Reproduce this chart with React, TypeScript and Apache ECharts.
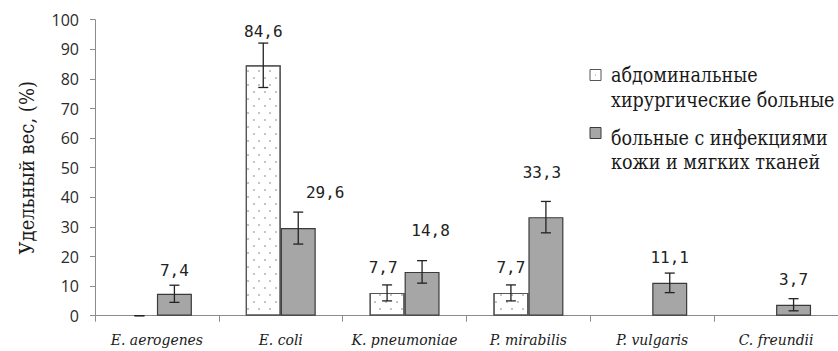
import React, { useEffect, useRef } from "react";
import * as echarts from "echarts";

const categories = ["E. aerogenes", "E. coli", "K. pneumoniae", "P. mirabilis", "P. vulgaris", "C. freundii"];
const seriesNames = ["абдоминальные хирургические больные", "больные с инфекциями кожи и мягких тканей"];
const abdominalValues = [0, 84.6, 7.7, 7.7, 0, 0];
const abdominalErrors = [0, 7.5, 2.7, 2.7, null, null];
const skinValues = [7.4, 29.6, 14.8, 33.3, 11.1, 3.7];
const skinErrors = [2.9, 5.4, 3.8, 5.3, 3.3, 2.05];
const yTicks = { min: 0, max: 100, interval: 10 };

// label placement (pixels above error bar top, horizontal nudge)
const abdominalLabelGap = [0, 11.5, 17.5, 17.5, 0, 0];
const abdominalLabelDx = [0, 0, -4, 0, 0, 0];
const skinLabelGap = [15, 20, 30, 29, 15.7, 18.7];
const skinLabelDx = [0, 27, 8.5, -4, 0, 0];

const CAT_GAP = 0.435;
const SERIF = "DejaVu Serif Condensed";

function errorSeries(values: number[], errors: (number | null)[], shift: number, gaps: number[], dxs: number[]) {
  return {
    type: "custom",
    coordinateSystem: "cartesian2d",
    encode: { x: 0, y: 1 },
    z: 10,
    data: values.map((v, i) => [i, v, errors[i] == null ? NaN : errors[i]]),
    renderItem: (params: any, api: any) => {
      const idx = api.value(0);
      const v = api.value(1);
      const e = api.value(2);
      const band = api.size([1, 0])[0];
      const bw = (band * (1 - CAT_GAP)) / 2;
      const base = api.coord([idx, v]);
      const cx = base[0] + shift * bw;
      const children: any[] = [];
      let topY = base[1];
      const stroke = { stroke: "#222", lineWidth: 1.3 };
      if (!isNaN(e)) {
        topY = api.coord([idx, v + e])[1];
        const botY = api.coord([idx, Math.max(v - e, 0)])[1];
        children.push({ type: "line", shape: { x1: cx, y1: topY, x2: cx, y2: botY }, style: stroke });
        children.push({ type: "line", shape: { x1: cx - 5, y1: topY, x2: cx + 5, y2: topY }, style: stroke });
        children.push({ type: "line", shape: { x1: cx - 5, y1: botY, x2: cx + 5, y2: botY }, style: stroke });
      }
      if (v > 0) {
        const i = params.dataIndex;
        children.push({
          type: "text",
          x: cx + dxs[i],
          y: topY - gaps[i],
          style: {
            text: v.toFixed(1).replace(".", ","),
            fontFamily: "DejaVu Sans Mono",
            fontSize: 16,
            fill: "#222",
            align: "center",
            verticalAlign: "middle",
          },
        });
      }
      return { type: "group", children };
    },
  };
}

function legendText(x: number, y: number, text: string) {
  return {
    type: "text",
    x,
    y,
    style: { text, fontFamily: SERIF, fontSize: 19.5, fill: "#1a1a1a", verticalAlign: "middle" },
  };
}

export default function App() {
  const ref = useRef<HTMLDivElement>(null);
  useEffect(() => {
    if (!ref.current) return;
    const chart = echarts.init(ref.current, undefined, { renderer: "svg" });
    chart.setOption({
      animation: false,
      grid: { left: 95, right: 0, top: 19.7, bottom: 35.3 },
      xAxis: {
        type: "category",
        data: categories,
        axisLine: { lineStyle: { color: "#8c8c8c", width: 1 } },
        axisTick: { show: true, length: 6, lineStyle: { color: "#8c8c8c" } },
        axisLabel: {
          fontFamily: SERIF,
          fontStyle: "italic",
          fontSize: 15.5,
          color: "#1a1a1a",
          margin: 16,
          interval: 0,
        },
      },
      yAxis: {
        type: "value",
        min: yTicks.min,
        max: yTicks.max,
        interval: yTicks.interval,
        name: "Удельный вес, (%)",
        nameLocation: "middle",
        nameGap: 58,
        nameTextStyle: { fontFamily: SERIF, fontSize: 20, color: "#1a1a1a" },
        axisLine: { show: true, lineStyle: { color: "#8c8c8c", width: 1 } },
        axisTick: { show: true, length: 5, lineStyle: { color: "#8c8c8c" } },
        splitLine: { show: false },
        axisLabel: { fontFamily: "Open Sans", fontSize: 16, color: "#2a2a2a", margin: 16 },
      },
      series: [
        {
          name: seriesNames[0],
          type: "bar",
          data: abdominalValues.map((v) => (v === 0 ? { value: v, itemStyle: { borderWidth: 0 } } : v)),
          barGap: "0%",
          barCategoryGap: CAT_GAP * 100 + "%",
          itemStyle: {
            color: "#ffffff",
            borderColor: "#555555",
            borderWidth: 1.2,
            decal: {
              symbol: "rect",
              symbolSize: 1,
              color: "#c4c4c4",
              dashArrayX: [[1.2, 8.8], [0, 5, 1.2, 3.8]],
              dashArrayY: [1.2, 4.8],
              rotation: 0,
            },
          },
        },
        {
          name: seriesNames[1],
          type: "bar",
          data: skinValues,
          barGap: "0%",
          barCategoryGap: CAT_GAP * 100 + "%",
          itemStyle: { color: "#a6a6a6", borderColor: "#3a3a3a", borderWidth: 1.2 },
        },
        errorSeries(abdominalValues, abdominalErrors, -0.5, abdominalLabelGap, abdominalLabelDx),
        errorSeries(skinValues, skinErrors, 0.5, skinLabelGap, skinLabelDx),
      ],
      graphic: [
        { type: "rect", shape: { x: 590, y: 69.5, width: 11, height: 11 }, style: { fill: "#fff", stroke: "#555", lineWidth: 1 } },
        { type: "rect", shape: { x: 595, y: 74.5, width: 1, height: 1 }, style: { fill: "#999" } },
        { type: "rect", shape: { x: 590, y: 127.5, width: 11, height: 11 }, style: { fill: "#a6a6a6", stroke: "#3a3a3a", lineWidth: 1 } },
        legendText(611, 75, "абдоминальные"),
        legendText(611, 100, "хирургические больные"),
        legendText(611, 138, "больные с инфекциями"),
        legendText(611, 162, "кожи и мягких тканей"),
      ],
    });
    return () => chart.dispose();
  }, []);
  return <div ref={ref} style={{ position: "fixed", left: 0, top: 0, width: 838, height: 351, background: "#fff" }} />;
}
